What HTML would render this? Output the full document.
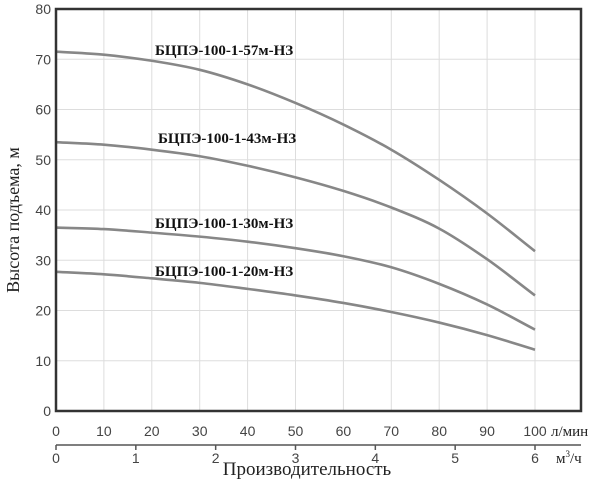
<!DOCTYPE html>
<html><head><meta charset="utf-8"><style>
body{margin:0;background:#fff}
svg text{font-family:"Liberation Sans",sans-serif}
.serif{font-family:"Liberation Serif",serif}
</style></head><body>
<svg id="chart" width="600" height="483" viewBox="0 0 600 483" xmlns="http://www.w3.org/2000/svg">
<g id="grid"></g>
<g id="curves"></g>
<g id="labels"></g>
<rect x="56" y="9" width="525" height="402" fill="none" stroke="#333" stroke-width="2.5"/>
<g id="axes"></g>
<text class="serif" transform="translate(19,220) rotate(-90)" text-anchor="middle" font-size="18" fill="#222">Высота подъема, м</text>
<text class="serif" x="307" y="475" text-anchor="middle" font-size="19" fill="#222">Производительность</text>
<text class="serif" x="551" y="436" font-size="15" fill="#222">л/мин</text>
<text class="serif" x="556" y="463" font-size="15" fill="#222">м<tspan font-size="9" dy="-6">3</tspan><tspan dy="6">/ч</tspan></text>
</svg>
<script>
const xValues=[0,10,20,30,40,50,60,70,80,90,100];
const yTicks=[0,10,20,30,40,50,60,70,80];
const xTicks=[0,10,20,30,40,50,60,70,80,90,100];
const m3Ticks=[0,1,2,3,4,5,6];
const seriesNames=["БЦПЭ-100-1-57м-НЗ","БЦПЭ-100-1-43м-НЗ","БЦПЭ-100-1-30м-НЗ","БЦПЭ-100-1-20м-НЗ"];
const s57=[71.5,70.9,69.7,67.9,65,61.3,57,52,46,39.3,31.8];
const s43=[53.5,53.0,52.0,50.7,48.8,46.5,43.8,40.5,36.3,30.2,23];
const s30=[36.5,36.2,35.5,34.7,33.7,32.4,30.8,28.6,25.3,21.2,16.2];
const s20=[27.7,27.2,26.4,25.5,24.3,23,21.5,19.7,17.6,15.1,12.2];
const labelPos=[[155,55],[158,143],[155,228],[155,276]];
const NS="http://www.w3.org/2000/svg";
const X=v=>56+v*4.79, Y=v=>411-v*5.025, M=v=>56+v*(479/6);
function mk(t,a,p){const e=document.createElementNS(NS,t);for(const k in a)e.setAttribute(k,a[k]);p.appendChild(e);return e;}
const grid=document.getElementById('grid'),axes=document.getElementById('axes');
xTicks.forEach(v=>{if(v>0){const l=mk('line',{x1:X(v),x2:X(v),y1:9,y2:411,stroke:'#ddd','stroke-width':1},grid);

}
const t=mk('text',{x:X(v),y:436,'text-anchor':'middle','font-size':14,fill:'#444'},axes);t.textContent=v;

});
yTicks.forEach(v=>{if(v>0&&v<80){const l=mk('line',{x1:56,x2:581,y1:Y(v),y2:Y(v),stroke:'#ddd','stroke-width':1},grid);

}
const t=mk('text',{x:51,y:Y(v)+5,'text-anchor':'end','font-size':14,fill:'#444'},axes);t.textContent=v;

});
const al=mk('line',{x1:56,x2:581,y1:445,y2:445,stroke:'#555','stroke-width':1.5},axes);


m3Ticks.forEach(v=>{const k=mk('line',{x1:M(v),x2:M(v),y1:445,y2:450,stroke:'#555','stroke-width':1.5},axes);


const t=mk('text',{x:M(v),y:463,'text-anchor':'middle','font-size':14,fill:'#444'},axes);t.textContent=v;

});
const curves=document.getElementById('curves'),labels=document.getElementById('labels');
[s57,s43,s30,s20].forEach((s,i)=>{
const n=s.length;
const val=k=>k<0?2*s[0]-s[1]:(k>=n?2*s[n-1]-s[n-2]:s[k]);
let d='M'+X(xValues[0])+','+Y(s[0]);
for(let j=1;j<n;j++){const x0=X(xValues[j-1]),x1=X(xValues[j]);
const c1y=Y(s[j-1])+(Y(s[j])-Y(val(j-2)))/6, c2y=Y(s[j])-(Y(val(j+1))-Y(s[j-1]))/6;
d+=' C'+(x0+(x1-x0)/3)+','+c1y+' '+(x1-(x1-x0)/3)+','+c2y+' '+x1+','+Y(s[j]);}
const p=mk('path',{d:d,fill:'none',stroke:'#878787','stroke-width':2.6},curves);


const t=mk('text',{x:labelPos[i][0],y:labelPos[i][1],'font-size':15,'font-weight':'bold',fill:'#111',class:'serif'},labels);
t.textContent=seriesNames[i];

});
</script>
</body></html>
